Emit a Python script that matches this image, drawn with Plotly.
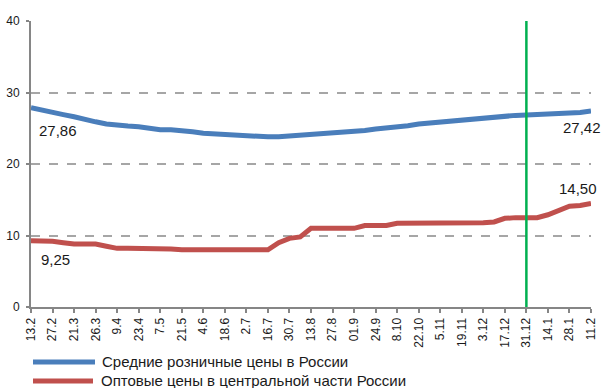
import plotly.graph_objects as go

# Category labels shown on the x axis (every other weekly observation)
tick_labels = ["13.2", "27.2", "21.3", "26.3", "9.4", "23.4", "7.5", "21.5", "4.6",
               "18.6", "2.7", "16.7", "30.7", "13.8", "27.8", "01.9", "24.9", "8.10",
               "22.10", "5.11", "19.11", "3.12", "17.12", "31.12", "14.1", "28.1", "11.2"]

# Average retail prices in Russia (weekly)
retail = [27.86, 27.5, 27.2, 26.9, 26.6, 26.2, 25.9, 25.6, 25.4, 25.3, 25.2, 25.0,
          24.8, 24.8, 24.7, 24.5, 24.3, 24.2, 24.05, 24.0, 23.9, 23.85, 23.8, 23.8,
          23.9, 23.95, 24.05, 24.2, 24.3, 24.4, 24.5, 24.7, 24.9, 25.0, 25.1, 25.35,
          25.6, 25.75, 25.9, 26.05, 26.2, 26.35, 26.5, 26.6, 26.7, 26.8, 26.85, 26.9,
          26.95, 27.0, 27.05, 27.2, 27.42]

# Wholesale prices in the central part of Russia (weekly)
wholesale = [9.25, 9.25, 9.2, 9.0, 8.8, 8.8, 8.8, 8.5, 8.2, 8.2, 8.2, 8.2,
             8.2, 8.1, 8.0, 8.0, 8.0, 8.0, 8.0, 8.0, 8.0, 8.0, 8.0, 9.0,
             9.6, 9.8, 11.0, 11.0, 11.0, 11.0, 11.0, 11.4, 11.4, 11.4, 11.7, 11.7,
             11.7, 11.7, 11.75, 11.75, 11.75, 11.8, 11.8, 11.9, 12.4, 12.5, 12.5, 12.5,
             12.9, 13.5, 14.1, 14.2, 14.5]

series_names = ["Средние розничные цены в России",
                "Оптовые цены в центральной части России"]
series_colors = ["#4A7EBB", "#C0504D"]
marker_label = "31.12"

# weekly points sit halfway between labelled ticks
xs = [i / 2 for i in range(len(retail))]

W, H = 606, 388
L, R, T, B = 31, 15, 21, 81
PW, PH = W - L - R, H - T - B


def px_x(p):
    return (p - L) / PW


def px_y(p):
    return (H - B - p) / PH


fig = go.Figure()
for vals, name, col in zip([retail, wholesale], series_names, series_colors):
    fig.add_trace(go.Scatter(x=xs, y=vals, mode="lines", name=name,
                             line=dict(color=col, width=5), showlegend=False))


def fmt(v):
    return f"{v:.2f}".replace(".", ",")


label_font = dict(family="Liberation Sans, Arial, sans-serif", size=15, color="#1a1a1a")
ann = [
    dict(x=xs[0], y=retail[0], text=fmt(retail[0]), xanchor="left", yanchor="middle",
         xshift=6, yshift=-23),
    dict(x=xs[-1], y=retail[-1], text=fmt(retail[-1]), xanchor="right", yanchor="middle",
         xshift=12, yshift=-17),
    dict(x=xs[0], y=wholesale[0], text=fmt(wholesale[0]), xanchor="left", yanchor="middle",
         xshift=8, yshift=-19),
    dict(x=xs[-1], y=wholesale[-1], text=fmt(wholesale[-1]), xanchor="right", yanchor="middle",
         xshift=8, yshift=15),
]
annotations = [dict(a, xref="x", yref="y", showarrow=False, font=label_font) for a in ann]

# hand-drawn legend below the axis
shapes = []
legend_rows = [(362, 33, 95, 100), (381, 33, 93, 99)]
for (yy, x0, x1, tx), name, col in zip(legend_rows, series_names, series_colors):
    shapes.append(dict(type="line", xref="paper", yref="paper",
                       x0=px_x(x0), x1=px_x(x1), y0=px_y(yy), y1=px_y(yy),
                       line=dict(color=col, width=5)))
    annotations.append(dict(xref="paper", yref="paper", x=px_x(tx), y=px_y(yy - 1),
                            text=name, showarrow=False, xanchor="left", yanchor="middle",
                            font=label_font))

# vertical marker at the year boundary
mi = tick_labels.index(marker_label)
shapes.append(dict(type="line", xref="x", yref="y", x0=mi, x1=mi, y0=0, y1=40,
                   line=dict(color="#00B050", width=2.5), layer="above"))

fig.update_layout(
    width=W, height=H,
    margin=dict(l=L, r=R, t=T, b=B, autoexpand=False),
    paper_bgcolor="white", plot_bgcolor="white",
    showlegend=False,
    annotations=annotations,
    shapes=shapes,
    font=dict(family="Liberation Sans, Arial, sans-serif", color="#1a1a1a"),
)
fig.update_xaxes(
    automargin=False,
    range=[0, len(tick_labels) - 1],
    tickvals=list(range(len(tick_labels))), ticktext=tick_labels,
    tickangle=-90, tickfont=dict(size=12),
    showgrid=False, zeroline=False,
    showline=True, linecolor="#868686", linewidth=2,
    ticks="outside", ticklen=4, tickcolor="#868686", tickwidth=1.5,
)
fig.update_yaxes(
    automargin=False,
    range=[0, 40], tickvals=[0, 10, 20, 30, 40], tickfont=dict(size=12),
    showgrid=True, gridcolor="#A6A6A6", gridwidth=1.5, griddash="dash",
    zeroline=False,
    showline=True, linecolor="#868686", linewidth=2,
    ticks="outside", ticklen=3, tickcolor="#868686", tickwidth=1.5,
    ticklabelstandoff=4,
)

fig.write_html("out.html")
